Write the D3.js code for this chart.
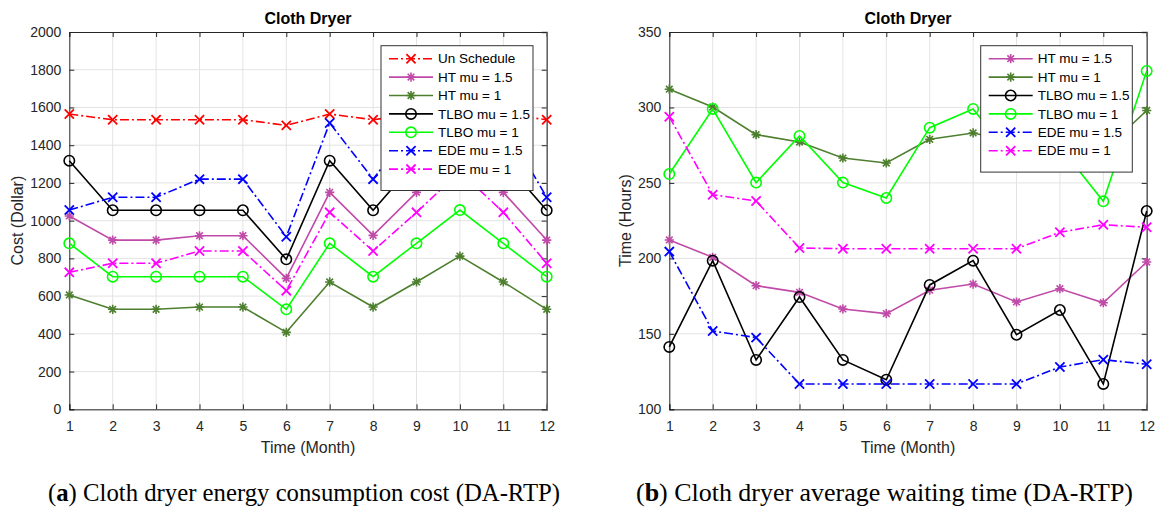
<!DOCTYPE html>
<html>
<head>
<meta charset="utf-8">
<script src="https://cdn.jsdelivr.net/npm/d3@7"></script>
<style>
  html, body { margin: 0; padding: 0; background: #ffffff; }
  svg { display: block; }
  text { font-family: "Liberation Sans", Arial, sans-serif; }
</style>
</head>
<body>
<svg id="fig" width="1156" height="508"></svg>
<script>
// Months on the horizontal axis
const months = [1, 2, 3, 4, 5, 6, 7, 8, 9, 10, 11, 12];

// (a) Energy consumption cost (Dollar)
const costUnSchedule = [1565, 1535, 1535, 1535, 1535, 1505, 1565, 1535, 1565, 1535, 1565, 1535];
const costHT15   = [1025, 897, 897, 920, 920, 694, 1150, 922, 1150, 1380, 1150, 897];
const costHT1    = [606, 530, 530, 542, 542, 408, 675, 542, 675, 812, 675, 530];
const costTLBO15 = [1318, 1055, 1055, 1055, 1055, 795, 1318, 1055, 1318, 1580, 1318, 1055];
const costTLBO1  = [880, 703, 703, 703, 703, 530, 880, 703, 880, 1056, 880, 703];
const costEDE15  = [1056, 1124, 1124, 1220, 1220, 915, 1518, 1220, 1518, 1820, 1518, 1124];
const costEDE1   = [726, 774, 774, 839, 839, 629, 1044, 839, 1044, 1260, 1044, 774];

// (b) Average waiting time (Hours)
const waitHT15   = [212.2, 200.7, 181.9, 177.5, 166.5, 163.4, 178.9, 183.0, 171.1, 179.9, 170.6, 197.6];
const waitHT1    = [312.1, 300.3, 282.0, 277.1, 266.5, 263.2, 278.9, 283.1, 277.0, 281.0, 271.0, 298.0];
const waitTLBO15 = [141.3, 198.5, 132.7, 174.4, 132.7, 119.6, 182.4, 198.5, 149.4, 165.8, 116.8, 231.4];
const waitTLBO1  = [255.9, 299.0, 250.2, 281.1, 250.2, 240.0, 286.6, 299.0, 262.8, 274.0, 237.8, 324.2];
const waitEDE15  = [204.5, 151.9, 147.5, 116.8, 116.8, 116.8, 116.8, 116.8, 116.8, 128.0, 132.9, 129.8];
const waitEDE1   = [293.9, 242.2, 238.0, 206.9, 206.4, 206.4, 206.4, 206.4, 206.4, 217.3, 222.3, 220.6];

// Tick values
const costTicks = [0, 200, 400, 600, 800, 1000, 1200, 1400, 1600, 1800, 2000];
const waitTicks = [100, 150, 200, 250, 300, 350];

// Series styles
const STY = {
  un:     { name: "Un Schedule",   color: "#ff0000", dash: "9,3,2,3", marker: "x" },
  ht15:   { name: "HT mu = 1.5",   color: "#c04aa8", dash: null,      marker: "star" },
  ht1:    { name: "HT mu = 1",     color: "#4d7f2f", dash: null,      marker: "star" },
  tlbo15: { name: "TLBO mu = 1.5", color: "#000000", dash: null,      marker: "o" },
  tlbo1:  { name: "TLBO mu = 1",   color: "#00ff00", dash: null,      marker: "o" },
  ede15:  { name: "EDE mu = 1.5",  color: "#0000ff", dash: "9,3,2,3", marker: "x" },
  ede1:   { name: "EDE mu = 1",    color: "#ff00ff", dash: "9,3,2,3", marker: "x" }
};

const svg = d3.select("#fig");
const AX = "#262626";

function drawMarker(g, kind, x, y, color) {
  const r = 4.6;
  if (kind === "o") {
    g.append("circle").attr("cx", x).attr("cy", y).attr("r", 5.2)
      .attr("fill", "none").attr("stroke", color).attr("stroke-width", 1.6);
  } else if (kind === "x") {
    g.append("path")
      .attr("d", `M${x - r},${y - r}L${x + r},${y + r}M${x - r},${y + r}L${x + r},${y - r}`)
      .attr("stroke", color).attr("stroke-width", 1.8).attr("fill", "none");
  } else {
    const d = r * 0.72;
    g.append("path")
      .attr("d", `M${x - r},${y}L${x + r},${y}M${x},${y - r}L${x},${y + r}` +
                 `M${x - d},${y - d}L${x + d},${y + d}M${x - d},${y + d}L${x + d},${y - d}`)
      .attr("stroke", color).attr("stroke-width", 1.6).attr("fill", "none");
  }
}

function panel(opts) {
  const x = d3.scaleLinear().domain([1, 12]).range([opts.left, opts.right]);
  const y = d3.scaleLinear().domain(opts.yDomain).range([409.3, 32]);
  const g = svg.append("g");

  // grid
  g.append("g").selectAll("line").data(months.slice(1, -1)).join("line")
    .attr("x1", d => x(d)).attr("x2", d => x(d)).attr("y1", y.range()[0]).attr("y2", y.range()[1])
    .attr("stroke", "#e3e3e3").attr("stroke-width", 1);
  g.append("g").selectAll("line").data(opts.yTicks.slice(1, -1)).join("line")
    .attr("y1", d => y(d)).attr("y2", d => y(d)).attr("x1", opts.left).attr("x2", opts.right)
    .attr("stroke", "#e3e3e3").attr("stroke-width", 1);

  // axes (ticks pointing inward on all four sides)
  const bottom = g.append("g").attr("transform", `translate(0,${y.range()[0]})`)
    .call(d3.axisBottom(x).tickValues(months).tickSize(-5).tickPadding(12).tickFormat(d3.format("d")));
  const top = g.append("g").attr("transform", `translate(0,${y.range()[1]})`)
    .call(d3.axisTop(x).tickValues(months).tickSize(-5).tickFormat(""));
  const left = g.append("g").attr("transform", `translate(${opts.left},0)`)
    .call(d3.axisLeft(y).tickValues(opts.yTicks).tickSize(-5).tickPadding(8).tickFormat(d3.format("d")));
  const right = g.append("g").attr("transform", `translate(${opts.right},0)`)
    .call(d3.axisRight(y).tickValues(opts.yTicks).tickSize(-5).tickFormat(""));
  [bottom, top, left, right].forEach(a => {
    a.select(".domain").attr("stroke", AX).attr("stroke-width", 1);
    a.selectAll(".tick line").attr("stroke", AX).attr("stroke-width", 1);
    a.selectAll(".tick text").attr("fill", AX).style("font-size", "14px")
      .style("font-family", "'Liberation Sans', Arial, sans-serif");
  });
  bottom.select(".domain").attr("stroke", "#666").attr("stroke-width", 1.6);
  right.select(".domain").attr("stroke", "#666").attr("stroke-width", 1.6);

  // series
  const line = d3.line().x((d, i) => x(months[i])).y(d => y(d));
  opts.series.forEach(s => {
    const st = STY[s.key];
    const sg = g.append("g");
    sg.append("path").datum(s.values).attr("d", line)
      .attr("fill", "none").attr("stroke", st.color).attr("stroke-width", 1.6)
      .attr("stroke-dasharray", st.dash);
    s.values.forEach((v, i) => drawMarker(sg, st.marker, x(months[i]), y(v), st.color));
  });

  // title and labels
  const cx = (opts.left + opts.right) / 2;
  g.append("text").attr("x", cx).attr("y", 24).attr("text-anchor", "middle")
    .style("font-size", "16px").style("font-weight", "bold").attr("fill", "#000").text("Cloth Dryer");
  g.append("text").attr("x", cx).attr("y", 453).attr("text-anchor", "middle")
    .style("font-size", "16px").attr("fill", AX).text("Time (Month)");
  g.append("text").attr("transform", `translate(${opts.left - opts.yLabelGap},${(y.range()[0] + y.range()[1]) / 2}) rotate(-90)`)
    .attr("text-anchor", "middle").attr("dy", "0.35em")
    .style("font-size", "16px").attr("fill", AX).text(opts.yLabel);

  // legend
  const L = opts.legend;
  const lg = g.append("g");
  lg.append("rect").attr("x", L.x0).attr("y", 45.7).attr("width", L.x1 - L.x0)
    .attr("height", 16 + opts.series.length * 18.4)
    .attr("fill", "#fff").attr("stroke", "#333").attr("stroke-width", 1);
  opts.series.forEach((s, i) => {
    const st = STY[s.key];
    const ly = 58.7 + i * 18.4;
    lg.append("line").attr("x1", L.x0 + 8).attr("x2", L.x0 + 52).attr("y1", ly).attr("y2", ly)
      .attr("stroke", st.color).attr("stroke-width", 1.6).attr("stroke-dasharray", st.dash);
    drawMarker(lg, st.marker, L.x0 + 30, ly, st.color);
    lg.append("text").attr("x", L.x0 + 57).attr("y", ly).attr("dy", "0.35em")
      .style("font-size", "13.5px").attr("fill", "#000").text(st.name);
  });
}

panel({
  left: 69.3, right: 546.7, yDomain: [0, 2000], yTicks: costTicks, yLabel: "Cost (Dollar)", yLabelGap: 52,
  legend: { x0: 381, x1: 533 },
  series: [
    { key: "un", values: costUnSchedule },
    { key: "ht15", values: costHT15 },
    { key: "ht1", values: costHT1 },
    { key: "tlbo15", values: costTLBO15 },
    { key: "tlbo1", values: costTLBO1 },
    { key: "ede15", values: costEDE15 },
    { key: "ede1", values: costEDE1 }
  ]
});

panel({
  left: 669.3, right: 1146.7, yDomain: [100, 350], yTicks: waitTicks, yLabel: "Time (Hours)", yLabelGap: 44,
  legend: { x0: 980.7, x1: 1132.3 },
  series: [
    { key: "ht15", values: waitHT15 },
    { key: "ht1", values: waitHT1 },
    { key: "tlbo15", values: waitTLBO15 },
    { key: "tlbo1", values: waitTLBO1 },
    { key: "ede15", values: waitEDE15 },
    { key: "ede1", values: waitEDE1 }
  ]
});

// sub-figure captions
function caption(x0, width, letter, rest) {
  const t = svg.append("text").attr("x", x0).attr("y", 501)
    .attr("textLength", width).attr("lengthAdjust", "spacingAndGlyphs")
    .style("font-family", "'Liberation Serif', 'Times New Roman', serif")
    .style("font-size", "25px").attr("fill", "#000");
  t.append("tspan").text("(");
  t.append("tspan").style("font-weight", "bold").text(letter);
  t.append("tspan").text(") " + rest);
}
caption(48, 512, "a", "Cloth dryer energy consumption cost (DA-RTP)");
caption(636, 497, "b", "Cloth dryer average waiting time (DA-RTP)");
</script>
</body>
</html>
